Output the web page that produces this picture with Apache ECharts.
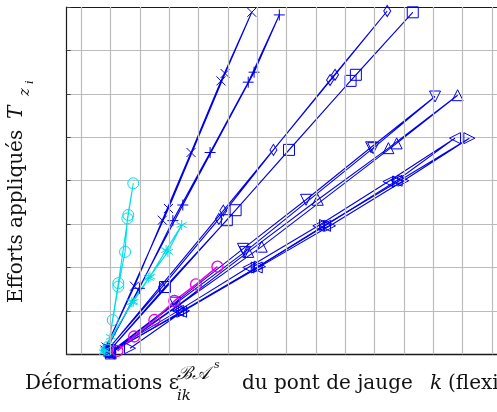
<!DOCTYPE html>
<html>
<head>
<meta charset="utf-8">
<script src="https://cdn.jsdelivr.net/npm/echarts@6/dist/echarts.min.js"></script>
<style>
  html, body { margin: 0; padding: 0; background: #fff; overflow: hidden; }
  #chart { width: 507px; height: 412px; }
</style>
</head>
<body>
<div id="chart"></div>
<script>
// strain (grid units) / applied load (grid units), load pass then unload pass
const crossPts   = [[0.84,0.17],[1.81,1.57],[2.76,3.09],[3.74,4.65],[4.76,6.30],[5.81,7.88],[4.90,6.47],[2.97,3.36],[0.80,0.10]]
const plusPts    = [[0.88,0.15],[1.98,1.52],[3.12,3.08],[4.39,4.65],[5.69,6.27],[6.75,7.82],[5.89,6.50],[3.46,3.44],[0.85,0.10]]
const diamondPts = [[0.91,0.12],[2.75,1.55],[4.69,3.12],[6.55,4.71],[8.48,6.32],[10.43,7.91],[8.65,6.44],[4.84,3.31],[0.90,0.10]]
const squarePts  = [[0.98,0.10],[2.85,1.55],[4.96,3.09],[7.08,4.71],[9.18,6.30],[11.30,7.88],[9.36,6.44],[5.26,3.32],[0.95,0.08]]
const triDownPts = [[0.98,0.05],[3.19,1.19],[5.51,2.43],[7.66,3.56],[9.88,4.77],[12.06,5.94],[9.95,4.75],[5.58,2.36],[0.95,0.03]]
const triUpPts   = [[1.00,0.05],[3.30,1.13],[5.69,2.36],[8.06,3.56],[10.47,4.75],[12.83,5.97],[10.75,4.86],[6.15,2.48],[1.00,0.02]]
const triLeftPts = [[0.95,0.05],[3.30,1.00],[5.69,2.00],[8.08,2.96],[10.47,3.98],[12.74,4.98],[10.75,4.00],[8.31,2.96],[5.98,2.00],[3.40,0.98],[0.95,0.02]]
const triRightPts= [[1.66,0.14],[3.44,0.98],[6.09,2.02],[8.48,2.96],[10.98,4.00],[13.23,4.98],[10.80,3.98],[8.31,2.98],[5.98,2.00],[3.50,1.00],[1.00,0.05]]
const cyanCirclePts = [[0.92,0.18],[1.07,0.79],[1.26,1.56],[1.49,2.36],[1.57,3.13],[1.77,3.94],[1.60,3.21],[1.26,1.64],[0.90,0.10]]
const cyanStarPts   = [[0.77,0.05],[1.01,0.40],[1.77,1.21],[2.34,1.79],[2.89,2.40],[3.42,2.98],[2.95,2.36],[2.30,1.76],[1.72,1.20],[0.80,0.10]]
const magentaPts    = [[1.23,0.08],[1.80,0.41],[2.49,0.79],[3.17,1.23],[3.91,1.61],[4.64,2.02]]

const xMin = -0.5, xMax = 14.5
const yMin = 0, yMax = 8
// vertical grid positions (the figure has no tick labels)
const xTicks = [0, 1, 2, 3, 4, 5, 6, 7, 8, 9, 10, 11, 12, 13, 14]

const blue = 'rgb(0,0,235)'
const cyan = 'rgb(0,220,232)'
const magenta = 'rgb(230,0,230)'
const gridGray = '#bcbcbc'

const CROSS = 'path://M0,0L10,10M0,10L10,0'
const PLUS = 'path://M5,0L5,10M0,5L10,5'
const STAR = 'path://M0,-1L0,1M-0.87,-0.5L0.87,0.5M-0.87,0.5L0.87,-0.5'

function mk(data, color, symbol, size, rotate, width) {
  return {
    type: 'line',
    z: 3,
    data: data,
    symbol: symbol,
    symbolSize: size,
    symbolRotate: rotate || 0,
    showAllSymbol: true,
    silent: true,
    lineStyle: { color: color, width: width || 1.1 },
    itemStyle: { color: 'rgba(0,0,0,0)', borderColor: color, borderWidth: width ? 1.3 : 1 },
    emphasis: { disabled: true },
  }
}

const serif = '"DejaVu Serif", serif'

const chart = echarts.init(document.getElementById('chart'))
chart.setOption({
  animation: false,
  backgroundColor: '#fff',
  grid: { left: 66.7, top: 7.1, right: 0.4, bottom: 57.7, containLabel: false },
  xAxis: [
    {
      type: 'value', min: xMin, max: xMax,
      axisLine: { show: true, onZero: false, lineStyle: { color: '#1a1a1a', width: 1.4 } },
      axisTick: { show: true, inside: true, length: 4, customValues: xTicks, lineStyle: { color: '#444' } },
      axisLabel: { show: false, customValues: xTicks },
      splitLine: { show: false },
    },
    {
      type: 'value', position: 'top', min: xMin, max: xMax,
      axisLine: { show: true, onZero: false, lineStyle: { color: '#1a1a1a', width: 1.2 } },
      axisTick: { show: false }, axisLabel: { show: false }, splitLine: { show: false },
    },
  ],
  yAxis: {
    type: 'value', min: yMin, max: yMax, interval: 1,
    axisLine: { show: true, onZero: false, lineStyle: { color: '#1a1a1a', width: 1.2 } },
    axisTick: { show: true, inside: true, length: 4, lineStyle: { color: '#444' } },
    axisLabel: { show: false },
    splitLine: { show: true, lineStyle: { color: gridGray, width: 1.2 } },
  },
  series: [
    {
      // vertical major grid
      type: 'line', z: 1, data: [], silent: true,
      markLine: {
        silent: true, symbol: 'none', animation: false,
        label: { show: false },
        lineStyle: { color: gridGray, width: 1.2, type: 'solid' },
        emphasis: { disabled: true },
        data: xTicks.map(v => ({ xAxis: v })),
      },
    },
    mk(crossPts, blue, CROSS, 9),
    mk(plusPts, blue, PLUS, 11),
    mk(diamondPts, blue, 'diamond', [7, 11]),
    mk(squarePts, blue, 'rect', 11),
    mk(triDownPts, blue, 'triangle', 11, 180),
    mk(triUpPts, blue, 'triangle', 11),
    mk(triLeftPts, blue, 'triangle', 11, 90),
    mk(triRightPts, blue, 'triangle', 11, -90),
    mk(cyanCirclePts, cyan, 'circle', 11),
    mk(cyanStarPts, cyan, STAR, 10),
    mk(magentaPts, magenta, 'circle', 11, 0, 1.5),
  ],
  graphic: [
    // x axis title
    { type: 'text', x: 25, y: 384, style: { text: 'Déformations ε', font: '20px ' + serif, fill: '#111', verticalAlign: 'middle' } },
    { type: 'text', x: 177, y: 374, style: { text: 'ℬ𝒜', font: 'italic 18px ' + serif, fill: '#111', verticalAlign: 'middle' } },
    { type: 'text', x: 214, y: 365, style: { text: 's', font: 'italic 11px ' + serif, fill: '#111', verticalAlign: 'middle' } },
    { type: 'text', x: 177, y: 396, style: { text: 'ik', font: 'italic 15px ' + serif, fill: '#111', verticalAlign: 'middle' } },
    { type: 'text', x: 242, y: 384, style: { text: 'du pont de jauge', font: '20px ' + serif, fill: '#111', verticalAlign: 'middle' } },
    { type: 'text', x: 430, y: 384, style: { text: 'k', font: 'italic 20px ' + serif, fill: '#111', verticalAlign: 'middle' } },
    { type: 'text', x: 448, y: 384, style: { text: '(flexion)', font: '20px ' + serif, fill: '#111', verticalAlign: 'middle' } },
    // y axis title (rotated)
    { type: 'text', x: 16.3, y: 303, rotation: Math.PI / 2, style: { text: 'Efforts appliqués', font: '20px ' + serif, fill: '#111', verticalAlign: 'middle' } },
    { type: 'text', x: 16.3, y: 119, rotation: Math.PI / 2, style: { text: 'T', font: 'italic 20px ' + serif, fill: '#111', verticalAlign: 'middle' } },
    { type: 'text', x: 25, y: 96, rotation: Math.PI / 2, style: { text: 'z', font: 'italic 15px ' + serif, fill: '#111', verticalAlign: 'middle' } },
    { type: 'text', x: 30, y: 84, rotation: Math.PI / 2, style: { text: 'i', font: 'italic 11px ' + serif, fill: '#111', verticalAlign: 'middle' } },
  ],
})
</script>
</body>
</html>
